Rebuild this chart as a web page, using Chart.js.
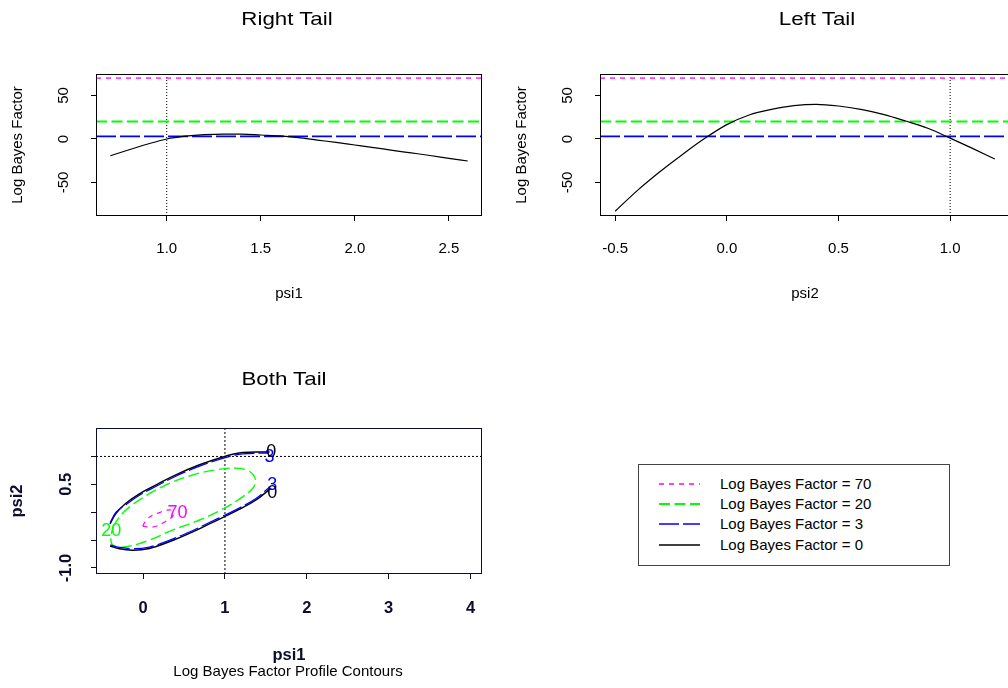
<!DOCTYPE html>
<html><head><meta charset="utf-8">
<script src="https://cdn.jsdelivr.net/npm/chart.js@4.4.1/dist/chart.umd.min.js"></script>
<style>
html,body{margin:0;padding:0;width:1008px;height:688px;overflow:hidden;background:#fff;font-family:"Liberation Sans",Arial,sans-serif;}
canvas{position:absolute;}
.ttl{position:absolute;width:400px;text-align:center;font-size:18.6px;line-height:1;white-space:nowrap;color:#000;transform:scaleX(1.2);}
.sub{position:absolute;width:400px;text-align:center;font-size:15px;line-height:1;white-space:nowrap;color:#000;}
#legend{position:absolute;left:638px;top:464px;width:312px;height:102px;box-sizing:border-box;border:1px solid #444;}
.lrow{position:absolute;left:0;height:20px;width:300px;}
.lrow svg{position:absolute;left:20px;top:8px;}
.lrow span{position:absolute;left:81px;top:2px;font-size:15px;line-height:1;color:#000;white-space:nowrap;}
</style></head><body>
<canvas id="cRight" width="504" height="344" style="left:0;top:0"></canvas>
<canvas id="cLeft" width="520" height="344" style="left:504px;top:0"></canvas>
<canvas id="cBoth" width="504" height="344" style="left:0;top:344px"></canvas>
<div class="ttl" id="t1" style="left:87px;top:10px">Right Tail</div>
<div class="ttl" id="t2" style="left:617px;top:10px">Left Tail</div>
<div class="ttl" id="t3" style="left:84px;top:370px">Both Tail</div>
<div class="sub" style="left:88px;top:663px">Log Bayes Factor Profile Contours</div>
<div id="legend"></div>
<script>
// ---------- data ----------
const rightX = [0.7,0.8,0.9,1.0,1.1,1.2,1.3,1.4,1.5,1.6,1.7,1.8,1.9,2.0,2.1,2.2,2.3,2.4,2.5,2.6];
const rightY = [-19.2,-12.4,-5.8,0,3.2,5,5.7,5.7,4.6,3.6,1.6,-1.2,-3.9,-6.9,-9.9,-13,-16,-19,-22.2,-25.3];
const leftX = [-0.5,-0.4,-0.3,-0.2,-0.1,0.0,0.1,0.2,0.3,0.4,0.5,0.6,0.7,0.8,0.9,1.0,1.1,1.2];
const leftY = [-83,-59,-37.6,-18,0.5,16.5,27.6,34,38.3,39.8,37.9,34,28.3,20.7,12.3,1,-10.8,-23];
const levels = [70, 20, 3, 0];
const thresholds = [70, 20, 3];
const refPsi1 = 1.0;
const refPsi2 = 1.0;
const rightXTicks = [1.0, 1.5, 2.0, 2.5];
const leftXTicks = [-0.5, 0.0, 0.5, 1.0];
const bfYTicks = [-50, 0, 50];
const rightXLim = [0.624, 2.676];
const leftXLim = [-0.568, 1.268];
const bfYLim = [-88.5, 74.7];

const contour70 = [[-0.005,-0.25],[0.056,-0.11],[0.20,-0.007],[0.34,0.04],[0.37,-0.05],[0.27,-0.17],[0.12,-0.265],[-0.005,-0.25]];
const contour20 = [[-0.37,-0.26],[-0.25,-0.02],[-0.045,0.22],[0.24,0.46],[0.566,0.65],[0.89,0.76],[1.14,0.79],[1.30,0.73],[1.374,0.58],[1.34,0.43],[1.22,0.28],[0.97,0.054],[0.69,-0.14],[0.36,-0.32],[0.077,-0.50],[-0.17,-0.61],[-0.33,-0.62],[-0.39,-0.53],[-0.37,-0.26]];
const contour3Upper = [[-0.4,-0.18],[-0.33,0.0],[-0.21,0.135],[-0.045,0.305],[0.16,0.465],[0.40,0.645],[0.69,0.825],[0.995,0.975],[1.22,1.045],[1.53,1.06]];
const contour3Lower = [[-0.4,-0.585],[-0.29,-0.63],[-0.127,-0.655],[0.077,-0.625],[0.32,-0.505],[0.566,-0.355],[0.81,-0.185],[0.995,-0.055],[1.18,0.079],[1.38,0.245],[1.53,0.43]];
const contour0Upper = [[-0.404,-0.21],[-0.33,-0.02],[-0.21,0.16],[-0.045,0.33],[0.16,0.49],[0.40,0.67],[0.69,0.85],[0.995,1.0],[1.22,1.07],[1.545,1.08]];
const contour0Lower = [[-0.404,-0.607],[-0.29,-0.655],[-0.127,-0.68],[0.077,-0.65],[0.32,-0.53],[0.566,-0.38],[0.81,-0.21],[0.995,-0.08],[1.18,0.054],[1.38,0.22],[1.545,0.41]];
const contourLabelLevel = [70, 20, 3, 3, 0, 0];
const contourLabelX = [0.42, -0.39, 1.545, 1.578, 1.566, 1.578];
const contourLabelY = [-0.01, -0.34, 0.99, 0.49, 1.081, 0.34];
const bothXTicks = [0, 1, 2, 3, 4];
const bothYTicks = [-1.0, -0.5, 0.0, 0.5, 1.0];
const bothYShown = [-1.0, 0.5];
const bothXLim = [-0.575, 4.14];
const bothYLim = [-1.108, 1.51];

// ---------- styles ----------
const FONT = '"Liberation Sans", Arial, sans-serif';
const levelColor = {70: '#ff00ff', 20: '#00ff00', 3: '#0000ff', 0: '#000000'};
const levelDash = {70: [5, 5], 20: [11, 4.5], 3: [20, 4], 0: []};
const levelWidth = {70: 1.3, 20: 2, 3: 1.6, 0: 1.5};
const contourWidth = {70: 1.2, 20: 1.4, 3: 1.3, 0: 1.5};
const NAVY = '#0c0c30';

function framePlugin(color) {
  return { id: 'frame', afterDatasetsDraw(chart) {
    const {ctx, chartArea: a} = chart;
    ctx.save(); ctx.strokeStyle = color; ctx.lineWidth = 1; ctx.setLineDash([]);
    ctx.strokeRect(a.left + 0.5, a.top + 0.5, a.right - a.left - 1, a.bottom - a.top - 1);
    ctx.restore();
  }};
}
function setTicks(arr) { return (s) => { s.ticks = arr.map(v => ({value: v})); }; }
const pts = (xs, ys) => xs.map((x, i) => ({x, y: ys[i]}));
const pairPts = (arr) => arr.map(p => ({x: p[0], y: p[1]}));

function tailPanel(id, xs, ys, xLim, xTicks, xTitle, rightPad) {
  const ds = [];
  ds.push({data: pts(xs, ys), borderColor: '#000', borderWidth: 1.2, pointRadius: 0, cubicInterpolationMode: 'monotone'});
  thresholds.forEach(t => ds.push({data: [{x: xLim[0], y: t}, {x: xLim[1], y: t}], borderColor: levelColor[t], borderDash: levelDash[t], borderWidth: levelWidth[t], pointRadius: 0}));
  ds.push({data: [{x: refPsi1, y: bfYLim[0]}, {x: refPsi1, y: bfYLim[1]}], borderColor: '#000', borderDash: [1, 2], borderWidth: 1, pointRadius: 0});
  new Chart(document.getElementById(id), {
    type: 'line',
    data: {datasets: ds},
    options: {
      responsive: false, animation: false, devicePixelRatio: 1,
      layout: {padding: {top: 74, right: rightPad, left: 0, bottom: 0}},
      plugins: {legend: {display: false}, tooltip: {enabled: false}},
      scales: {
        x: {type: 'linear', min: xLim[0], max: xLim[1], afterBuildTicks: setTicks(xTicks),
          afterFit: s => { s.height = 128; },
          ticks: {callback: v => v.toFixed(1), font: {family: FONT, size: 15}, color: '#000', padding: 18.7, maxRotation: 0, autoSkip: false},
          grid: {display: true, drawOnChartArea: false, drawTicks: true, tickLength: 5, color: '#000'},
          border: {display: false},
          title: {display: true, text: xTitle, font: {family: FONT, size: 15}, color: '#000', padding: {top: 0, bottom: 41.5}}},
        y: {type: 'linear', min: bfYLim[0], max: bfYLim[1], afterBuildTicks: setTicks(bfYTicks),
          afterFit: s => { s.width = 96; },
          ticks: {callback: v => String(v), font: {family: FONT, size: 15}, color: '#000', padding: 16, minRotation: 90, maxRotation: 90, crossAlign: 'center', autoSkip: false},
          grid: {display: true, drawOnChartArea: false, drawTicks: true, tickLength: 5, color: '#000'},
          border: {display: false},
          title: {display: true, text: 'Log Bayes Factor', font: {family: FONT, size: 15}, color: '#000', padding: {top: 9.2, bottom: 0}}}
      }
    },
    plugins: [framePlugin('#000')]
  });
}
tailPanel('cRight', rightX, rightY, rightXLim, rightXTicks, 'psi1', 22);
tailPanel('cLeft', leftX, leftY, leftXLim, leftXTicks, 'psi2', 14);

// contour panel
const contourLabelPlugin = { id: 'clabels', afterDatasetsDraw(chart) {
  const {ctx, scales: {x, y}} = chart;
  ctx.save(); ctx.font = '18px ' + FONT; ctx.textAlign = 'center'; ctx.textBaseline = 'middle';
  contourLabelLevel.forEach((lv, i) => {
    ctx.fillStyle = levelColor[lv];
    ctx.fillText(String(lv), x.getPixelForValue(contourLabelX[i]), y.getPixelForValue(contourLabelY[i]));
  });
  ctx.restore();
}};
const cds = [];
const cline = (arr, lv) => ({data: pairPts(arr), borderColor: levelColor[lv], borderDash: levelDash[lv], borderWidth: contourWidth[lv], pointRadius: 0, tension: 0.4});
cds.push(cline(contour3Upper, 3), cline(contour3Lower, 3));
cds.push(cline(contour0Upper, 0), cline(contour0Lower, 0));
cds.push(cline(contour20, 20), cline(contour70, 70));
cds.push({data: [{x: refPsi1, y: bothYLim[0]}, {x: refPsi1, y: bothYLim[1]}], borderColor: '#000', borderDash: [2, 2], borderWidth: 1, pointRadius: 0});
cds.push({data: [{x: bothXLim[0], y: refPsi2}, {x: bothXLim[1], y: refPsi2}], borderColor: '#000', borderDash: [2, 2], borderWidth: 1, pointRadius: 0});
const boldFont = {family: FONT, size: 16.5, weight: 'bold'};
new Chart(document.getElementById('cBoth'), {
  type: 'line',
  data: {datasets: cds},
  options: {
    responsive: false, animation: false, devicePixelRatio: 1,
    layout: {padding: {top: 84, right: 22, left: 0, bottom: 0}},
    plugins: {legend: {display: false}, tooltip: {enabled: false}},
    scales: {
      x: {type: 'linear', min: bothXLim[0], max: bothXLim[1], afterBuildTicks: setTicks(bothXTicks),
        afterFit: s => { s.height = 114; },
        ticks: {callback: v => String(v), font: boldFont, color: NAVY, padding: 20, maxRotation: 0, autoSkip: false},
        grid: {display: true, drawOnChartArea: false, drawTicks: true, tickLength: 5, color: NAVY},
        border: {display: false},
        title: {display: true, text: 'psi1', font: boldFont, color: NAVY, padding: {top: 0, bottom: 23}}},
      y: {type: 'linear', min: bothYLim[0], max: bothYLim[1], afterBuildTicks: setTicks(bothYTicks),
        afterFit: s => { s.width = 96; },
        ticks: {callback: v => bothYShown.some(w => Math.abs(w - v) < 1e-9) ? v.toFixed(1) : '', font: boldFont, color: NAVY, padding: 10.8, minRotation: 90, maxRotation: 90, crossAlign: 'center', autoSkip: false},
        grid: {display: true, drawOnChartArea: false, drawTicks: true, tickLength: 5, color: NAVY},
        border: {display: false},
        title: {display: true, text: 'psi2', font: boldFont, color: NAVY, padding: {top: 7.9, bottom: 0}}}
    }
  },
  plugins: [framePlugin(NAVY), contourLabelPlugin]
});

// legend
const legendEl = document.getElementById('legend');
const rowTops = [9.3, 29, 49.3, 69.7];
levels.forEach((lv, i) => {
  const row = document.createElement('div');
  row.className = 'lrow';
  row.style.top = rowTops[i] + 'px';
  const dash = levelDash[lv].length ? levelDash[lv].join(',') : 'none';
  row.innerHTML = '<svg width="42" height="4"><line x1="0" y1="2" x2="41" y2="2" stroke="' + levelColor[lv] + '" stroke-width="' + levelWidth[lv] + '" stroke-dasharray="' + dash + '"/></svg><span>Log Bayes Factor = ' + lv + '</span>';
  legendEl.appendChild(row);
});
</script>
</body></html>
